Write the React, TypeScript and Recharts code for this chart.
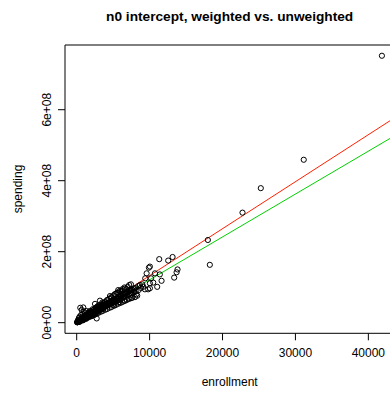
import React from 'react';
import { ScatterChart, Scatter, XAxis, YAxis, ReferenceLine, ReferenceArea } from 'recharts';

const enrollment = [
  50, 80, 110, 140, 170, 200, 230, 260, 300, 330, 360, 390, 420, 450, 480, 510, 540, 570, 600, 630,
  660, 690, 720, 750, 790, 820, 860, 890, 930, 960, 1000, 1040, 1080, 1120, 1160, 1200, 1240, 1280, 1320, 1360,
  1400, 1450, 1500, 1550,
  490, 680, 900, 300, 600, 1100, 1300, 200, 400, 800, 1000, 1500, 150, 700, 1200, 900, 1300, 400,
  1600, 1650, 1700, 1750, 1800, 1850, 1900, 1950, 2000, 2060, 2120, 2180, 2240, 2300, 2360, 2420, 2480, 2540,
  2600, 2660, 2720, 2780, 2840, 2900, 2960, 3020, 3080, 3140, 3200, 3260, 3320, 3380, 3440, 3500, 3560, 3620,
  3680, 3740, 3800, 3860, 3920, 3980,
  1800, 2200, 2510, 3190, 2000, 2400, 2800, 3500, 3000, 1700, 3700, 2600, 2740, 2100, 3000, 3600, 2500,
  4050, 4120, 4200, 4280, 4360, 4440, 4520, 4600, 4680, 4760, 4840, 4920, 5000, 5100, 5200, 5300, 5400, 5500,
  5600, 5700, 5800, 5900, 6000, 6100, 6200, 6300, 6400, 6500, 6600, 6700, 6800, 6900, 7000, 7100, 7200, 7300,
  7400, 7500, 7600, 7700, 7800, 7900, 8000,
  4560, 5700, 5200, 6200, 6600, 7000, 7440, 8440, 7200, 6800, 4800, 5500, 4200, 6000,
  7990, 7600, 7100, 6500, 8200, 8300, 8100, 5800, 5000,
  8670, 9120, 9360, 9800, 10040, 10040, 10500, 11040, 11640, 9590, 10730, 11400, 10040, 9900, 11320, 12550,
  13150, 13830, 13700, 13370, 8800, 9000, 8500, 9400, 10200,
  17990, 18260, 22740, 25250, 31140, 41860,
  310, 590, 920, 1190, 1520, 1790, 2110, 2380, 2720, 2990, 3310, 3580, 3920, 4190, 4520, 4780, 5120, 5380,
  5720, 6010, 6280, 6620, 6880, 7230, 7480,
  260, 540, 860, 1140, 1460, 1740, 2060, 2340, 2660, 2940, 3260, 3540, 3860, 4140, 4460, 4740, 5060, 5340,
  5660, 5940, 6260, 6540,
  160, 340, 660, 940, 1260, 1540, 1860, 2140, 2460, 2740, 3060, 3340, 3660, 3940, 4260, 4540, 4860, 5140,
  5460, 5740, 6060, 6340, 6660, 6940, 7260, 7540,
];

const spending = [
  1.0e6, 1.5e6, 2.0e6, 1.4e6, 2.6e6, 2.2e6, 3.3e6, 2.8e6, 4.0e6, 3.5e6, 5.0e6, 4.2e6, 5.6e6, 4.9e6, 6.3e6, 5.5e6, 7.2e6, 6.1e6, 8.0e6, 6.8e6,
  8.8e6, 7.6e6, 9.6e6, 8.3e6, 10.4e6, 9.1e6, 11.3e6, 9.9e6, 12.3e6, 10.6e6, 13.1e6, 11.5e6, 14.2e6, 12.4e6, 15.1e6, 13.3e6, 16.3e6, 14.2e6, 17.2e6, 15.1e6,
  18.4e6, 16.3e6, 19.5e6, 17.3e6,
  42e6, 36e6, 43e6, 13e6, 22e6, 27e6, 33e6, 8e6, 17e6, 25e6, 31e6, 26e6, 5e6, 15e6, 22e6, 7e6, 11e6, 2.5e6,
  21.0e6, 18.4e6, 22.3e6, 19.6e6, 23.6e6, 20.8e6, 25.0e6, 21.9e6, 26.4e6, 23.2e6, 27.9e6, 24.6e6, 29.6e6, 26.0e6, 31.2e6, 27.5e6, 32.8e6, 29.0e6,
  34.5e6, 30.4e6, 36.1e6, 31.8e6, 37.7e6, 33.2e6, 39.3e6, 34.6e6, 40.8e6, 36.0e6, 42.5e6, 37.5e6, 44.0e6, 38.9e6, 45.6e6, 40.3e6, 47.2e6, 41.8e6,
  48.8e6, 43.2e6, 50.4e6, 44.7e6, 52.0e6, 46.1e6,
  33e6, 38e6, 53e6, 62e6, 31e6, 37e6, 45e6, 57e6, 49e6, 29e6, 55e6, 42e6, 12e6, 19e6, 31e6, 38e6, 23e6,
  53.5e6, 47.5e6, 55.0e6, 49.0e6, 56.6e6, 50.6e6, 58.2e6, 52.1e6, 59.8e6, 53.7e6, 61.4e6, 55.2e6, 63.1e6, 57.2e6, 65.3e6, 59.2e6, 67.6e6, 61.3e6,
  69.8e6, 63.5e6, 72.1e6, 65.7e6, 74.5e6, 67.9e6, 76.8e6, 70.1e6, 79.0e6, 72.3e6, 81.3e6, 74.6e6, 83.6e6, 76.8e6, 86.0e6, 79.0e6, 88.3e6, 81.2e6,
  90.6e6, 83.4e6, 92.9e6, 85.6e6, 95.1e6, 87.8e6, 97.5e6,
  75e6, 92e6, 80e6, 90e6, 96e6, 101e6, 108e6, 103e6, 106e6, 94e6, 70e6, 84e6, 64e6, 86e6,
  72e6, 70e6, 68e6, 62e6, 80e6, 76e6, 88e6, 58e6, 50e6,
  106e6, 101e6, 94e6, 94e6, 97e6, 111e6, 113e6, 101e6, 118e6, 139e6, 139e6, 136e6, 158e6, 155e6, 179e6, 175e6,
  185e6, 150e6, 142e6, 127e6, 98e6, 108e6, 92e6, 125e6, 125e6,
  233e6, 163e6, 310e6, 379e6, 459e6, 752e6,
  2.7e6, 5.4e6, 8.6e6, 11.1e6, 14.2e6, 16.4e6, 19.8e6, 21.9e6, 25.3e6, 27.8e6, 30.9e6, 33.2e6, 36.4e6, 38.7e6, 42.1e6, 44.2e6, 47.6e6, 50.1e6,
  53.4e6, 55.8e6, 58.3e6, 61.6e6, 64.1e6, 67.2e6, 69.6e6,
  5.4e6, 9.6e6, 13.3e6, 18.1e6, 22.4e6, 27.2e6, 31.3e6, 36.2e6, 40.3e6, 45.1e6, 49.2e6, 54.1e6, 58.2e6, 63.1e6, 67.3e6, 72.2e6, 76.3e6, 81.2e6,
  85.4e6, 90.1e6, 94.3e6, 99.2e6,
  1.9e6, 4.3e6, 8.2e6, 11.8e6, 15.7e6, 19.3e6, 23.2e6, 26.8e6, 30.7e6, 34.3e6, 38.2e6, 41.8e6, 45.7e6, 49.3e6, 53.2e6, 56.8e6, 60.7e6, 64.3e6,
  68.2e6, 71.8e6, 75.7e6, 79.3e6, 83.2e6, 86.8e6, 90.7e6, 94.3e6,
];

const xTicks = [0, 10000, 20000, 30000, 40000];
const xTickLabels = ['0', '10000', '20000', '30000', '40000'];
const yTicks = [0, 2e8, 4e8, 6e8];
const yTickLabels = ['0e+00', '2e+08', '4e+08', '6e+08'];

const redSlope = 13240;
const greenSlope = 12080;

const xDomain: [number, number] = [-1605, 43560];
const yDomain: [number, number] = [-2.99e7, 7.823e8];

const points = enrollment.map((x, i) => ({ x, y: spending[i] }));

const FONT = '"Liberation Sans", Arial, Helvetica, sans-serif';

const Dot = (props: any) => (
  <circle cx={props.cx} cy={props.cy} r={2.6} fill="none" stroke="#000" strokeWidth={1} />
);

const PLOT_LEFT = 65;
const PLOT_BOTTOM = 333.3;

const XTick = (props: any) => {
  const { x, payload } = props;
  const idx = xTicks.indexOf(payload.value);
  const y = PLOT_BOTTOM;
  return (
    <g>
      <line x1={x} x2={x} y1={y} y2={y + 7} stroke="#000" strokeWidth={1} />
      <text x={x} y={y + 24} textAnchor="middle" fontSize={12} fontFamily={FONT} fill="#000">
        {xTickLabels[idx]}
      </text>
    </g>
  );
};

const YTick = (props: any) => {
  const { y, payload } = props;
  const idx = yTicks.indexOf(payload.value);
  const x = PLOT_LEFT;
  return (
    <g>
      <line x1={x - 7} x2={x} y1={y} y2={y} stroke="#000" strokeWidth={1} />
      <text
        transform={`translate(${x - 18.3},${y}) rotate(-90)`}
        textAnchor="middle"
        dy="0.35em"
        fontSize={12}
        fontFamily={FONT}
        fill="#000"
      >
        {yTickLabels[idx]}
      </text>
    </g>
  );
};

export default function App() {
  const plotRight = 65 + 329.3;
  return (
    <div style={{ position: 'fixed', left: 0, top: 0, width: 390, height: 393, overflow: 'hidden', background: '#fff' }}>
      <div
        style={{
          position: 'absolute',
          left: 0,
          top: 0,
          width: 459.3,
          height: 33,
          lineHeight: '33px',
          textAlign: 'center',
          fontFamily: FONT,
          fontWeight: 'bold',
          fontSize: 13.7,
          color: '#000',
          whiteSpace: 'nowrap',
        }}
      >
        n0 intercept, weighted vs. unweighted
      </div>
      <div
        style={{
          position: 'absolute',
          left: 0,
          top: 374.5,
          width: 459.3,
          height: 14,
          textAlign: 'center',
          fontFamily: FONT,
          fontSize: 12,
          color: '#000',
          whiteSpace: 'nowrap',
          lineHeight: '14px',
        }}
      >
        enrollment
      </div>
      <div
        style={{
          position: 'absolute',
          left: 18.3 - 50,
          top: 189 - 7,
          width: 100,
          height: 14,
          lineHeight: '14px',
          textAlign: 'center',
          fontFamily: FONT,
          fontSize: 12,
          color: '#000',
          whiteSpace: 'nowrap',
          transform: 'rotate(-90deg)',
        }}
      >
        spending
      </div>
      <div style={{ position: 'absolute', left: 0, top: 0 }}>
        <ScatterChart
          width={400}
          height={393}
          margin={{ top: 45, left: 0, right: 400 - plotRight, bottom: 0 }}
        >
          <XAxis
            type="number"
            dataKey="x"
            domain={xDomain}
            allowDataOverflow
            ticks={xTicks}
            interval={0}
            height={393 - PLOT_BOTTOM}
            axisLine={false}
            tickLine={false}
            tick={XTick}
          />
          <YAxis
            type="number"
            dataKey="y"
            domain={yDomain}
            allowDataOverflow
            ticks={yTicks}
            interval={0}
            width={PLOT_LEFT}
            axisLine={false}
            tickLine={false}
            tick={YTick}
          />
          <ReferenceArea
            x1={xDomain[0]}
            x2={xDomain[1]}
            y1={yDomain[0]}
            y2={yDomain[1]}
            fill="none"
            fillOpacity={0}
            stroke="#000"
            strokeWidth={1}
            ifOverflow="visible"
          />
          <Scatter data={points} shape={Dot} isAnimationActive={false} />
          <ReferenceLine
            segment={[{ x: 0, y: 0 }, { x: xDomain[1], y: redSlope * xDomain[1] }]}
            stroke="#ff2000"
            strokeWidth={1}
            ifOverflow="visible"
          />
          <ReferenceLine
            segment={[{ x: 0, y: 0 }, { x: xDomain[1], y: greenSlope * xDomain[1] }]}
            stroke="#00d000"
            strokeWidth={1}
            ifOverflow="visible"
          />
        </ScatterChart>
      </div>
    </div>
  );
}
